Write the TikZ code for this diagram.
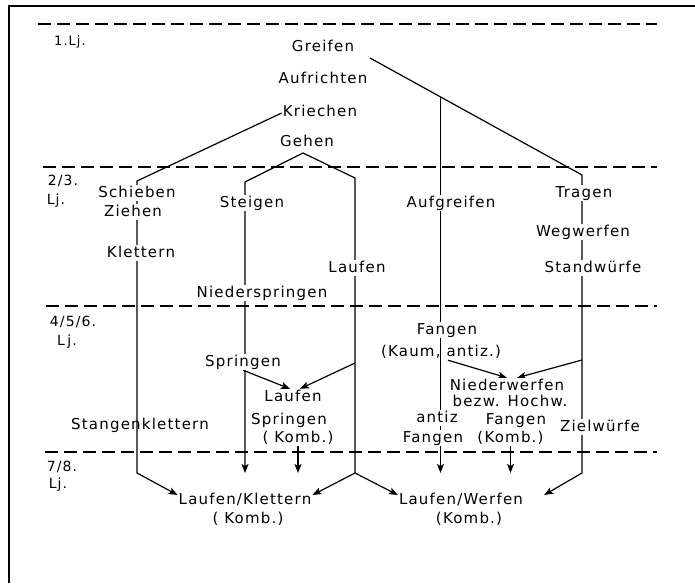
\documentclass[tikz,border=0pt]{standalone}
\usepackage{fontspec}
\setmainfont[LetterSpace=8]{DejaVu Sans}
\usetikzlibrary{arrows.meta}
\pgfdeclarelayer{paper}
\pgfdeclarelayer{wires}
\pgfsetlayers{paper,wires,main}
\begin{document}
\begin{tikzpicture}[x=1pt,y=-1pt,
  lbl/.style={font=\fontsize{15}{17}\selectfont, inner sep=1pt,
              text height=11pt, text depth=3pt, fill=white},
  lblopen/.style={lbl, fill=none},
  tag/.style={font=\fontsize{14}{16}\selectfont, inner sep=1pt,
              text height=10pt, text depth=2pt},
  tagsmall/.style={tag, font=\fontsize{13}{15}\selectfont},
  conn/.style={line width=1.2pt, line join=miter},
  arr/.style={conn, -{Stealth[length=9pt,width=7pt,inset=2pt]}},
  band/.style={line width=2.2pt, dash pattern=on 13pt off 6pt},
  frame/.style={line width=2pt},
]
\useasboundingbox (0,0) rectangle (695,583);

% ---------- age bands ----------
\node[tagsmall] (lj1) at (70,42) {1.Lj.};
\node[tag] (lj2a) at (63,181) {2/3.};
\node[tag] (lj2b) at (56,200) {Lj.};
\node[tag] (lj4a) at (73,322) {4/5/6.};
\node[tag] (lj4b) at (67,341) {L\,j.};
\node[tag] (lj7a) at (62,467) {7/8.};
\node[tag] (lj7b) at (58,484) {Lj.};

% ---------- 1st year ----------
\node[lbl] (greifen)    at (323,48)  {Greifen};
\node[lbl] (aufrichten) at (323,80)  {Aufrichten};
\node[lbl] (kriechen)   at (320,113) {Kriechen};
\node[lbl] (gehen)      at (307,142) {Gehen};

% ---------- 2nd/3rd year ----------
\node[lbl] (schieben)   at (137,193) {Schieben};
\node[lbl] (ziehen)     at (133,212) {Ziehen};
\node[lbl] (klettern)   at (141,253) {Klettern};
\node[lbl] (steigen)    at (252,203) {Steigen};
\node[lbl] (nieder)     at (262,293) {Niederspringen};
\node[lbl] (laufen)     at (357,268) {Laufen};
\node[lbl] (aufgreifen) at (451,203) {Aufgreifen};
\node[lbl] (tragen)     at (584,193) {Tragen};
\node[lbl] (wegwerfen)  at (583,232) {Wegwerfen};
\node[lbl] (standw)     at (593,268) {Standwürfe};

% ---------- 4th--6th year ----------
\node[lbl]     (fangen)    at (447,330) {Fangen};
\node[lblopen] (kaum)      at (441,352) {(Kaum, antiz.)};
\node[lbl]     (springen)  at (243,362) {Springen};
\node[lbl]     (lsLaufen)  at (293,397) {Laufen};
\node[lbl]     (lsSpr)     at (289,420) {Springen};
\node[lbl]     (lsKomb)    at (298,438) {( Komb.)};
\node[lblopen] (stangen)   at (140,425) {Stangenklettern};
\node[lbl]     (niederw)   at (507,386) {Niederwerfen};
\node[lbl]     (bezw)      at (510,402) {bezw. Hochw.};
\node[lbl]     (antiz)     at (437,418) {antiz};
\node[lbl]     (afangen)   at (433,438) {Fangen};
\node[lbl]     (kfangen)   at (516,420) {Fangen};
\node[lbl]     (kkomb)     at (510.5,438) {(Komb.)};
\node[lbl]     (zielw)     at (600,427) {Zielwürfe};

% ---------- 7th/8th year ----------
\node[lbl] (lk)     at (245,500) {Laufen/Klettern};
\node[lbl] (lkkomb) at (248,519) {( Komb.)};
\node[lbl] (lw)     at (461,500) {Laufen/Werfen};
\node[lbl] (lwkomb) at (469,519) {(Komb.)};

% ---------- bends and joints ----------
\coordinate (row)   at (0,473);
\coordinate (gstart) at (370,58);
\coordinate (gbend) at (582,175);
\coordinate (ag)    at (440.5,97);
\coordinate (kbend) at (137,181);
\coordinate (gpeak) at (303,153);
\coordinate (gl)    at (245,182);
\coordinate (gr)    at (355,178);
\coordinate (lr)    at (355,363);
\coordinate (zr)    at (582,360);

\begin{pgfonlayer}{paper}
  \fill[white] (0,0) rectangle (695,583);
\end{pgfonlayer}

\begin{pgfonlayer}{wires}
  % frame
  \draw[frame] (9,583) -- (9,6.5) -- (695,6.5);
  % year separators
  \draw[band] (38,24)  -- (657,24);
  \draw[band] (43,167) -- (657,167);
  \draw[band] (46,306) -- (657,306);
  \draw[band] (45,452) -- (657,452);

  % Greifen -> Tragen ... -> Laufen/Werfen
  \draw[arr] (gstart) -- (gbend) -- (gbend |- row)
             -- ([xshift=20pt,yshift=5pt]lw.east);
  % Aufgreifen -> antiz. Fangen -> down
  \draw[arr] (ag) -- (ag |- row);
  % Kriechen -> Schieben/Ziehen -> Klettern -> Laufen/Klettern
  \draw[arr] (kriechen.west) -- (kbend) -- (kbend |- row)
             -- ([yshift=5pt]lk.west);
  % Gehen -> Steigen -> Niederspringen -> down
  \draw[arr] (gpeak) -- (gl) -- (gl |- row);
  % Gehen -> Laufen -> both combinations
  \draw[conn] (gpeak) -- (gr) -- (gr |- row);
  \draw[arr] (gr |- row) -- ([yshift=5pt]lk.east);
  \draw[arr] (gr |- row) -- ([yshift=5pt]lw.west);
  % into Laufen / Springen (Komb.)
  \draw[arr] (springen.south) -- ([xshift=-3pt]lsLaufen.north);
  \draw[arr] (lr) -- ([xshift=7pt]lsLaufen.north);
  \draw[arr] (lsKomb.south) -- (lsKomb.south |- row);
  % into Niederwerfen / Fangen (Komb.)
  \draw[arr] ([xshift=7pt]kaum.south) -- (niederw.north);
  \draw[arr] (zr) -- ([xshift=10pt]niederw.north);
  \draw[arr] (kkomb.south) -- (kkomb.south |- row);
\end{pgfonlayer}
\end{tikzpicture}
\end{document}
